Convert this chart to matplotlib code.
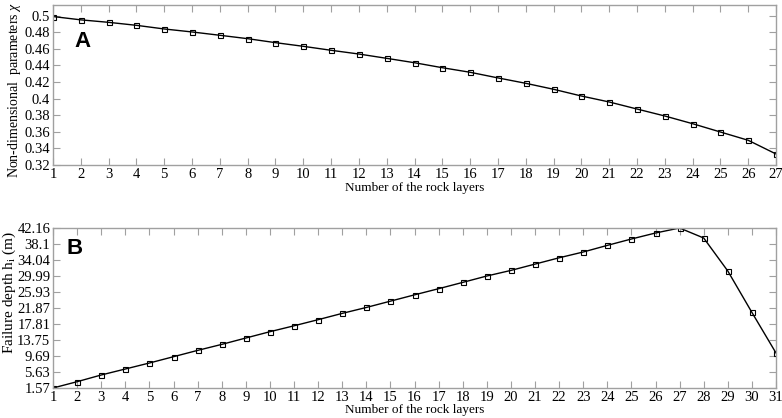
import matplotlib
matplotlib.use("Agg")
import matplotlib.pyplot as plt
import numpy as np

layers_a = list(range(1, 28))
chi = [0.499, 0.495, 0.492, 0.4884, 0.484, 0.4804, 0.4764, 0.4723, 0.4675,
       0.4631, 0.4583, 0.4538, 0.4486, 0.4433, 0.4373, 0.4318, 0.425,
       0.4185, 0.4113, 0.4032, 0.396, 0.3875, 0.3791, 0.3698, 0.3598,
       0.3498, 0.3333]
yticks_a = [0.32, 0.34, 0.36, 0.38, 0.4, 0.42, 0.44, 0.46, 0.48, 0.5]
yticklabels_a = ["0.32", "0.34", "0.36", "0.38", "0.4", "0.42", "0.44", "0.46", "0.48", "0.5"]

layers_b = list(range(1, 32))
depth = [1.57, 3.17, 4.87, 6.39, 7.91, 9.51, 11.11, 12.63, 14.25, 15.85,
         17.35, 18.9, 20.5, 22.0, 23.6, 25.2, 26.76, 28.36, 29.98, 31.4,
         33.0, 34.6, 36.07, 37.75, 39.37, 40.89, 42.16, 39.62, 31.25,
         20.75, 10.45]
yticks_b = [1.57, 5.63, 9.69, 13.75, 17.81, 21.87, 25.93, 29.99, 34.04, 38.1, 42.16]
yticklabels_b = ["1.57", "5.63", "9.69", "13.75", "17.81", "21.87", "25.93",
                 "29.99", "34.04", "38.1", "42.16"]

serif = "Liberation Serif"
plt.rcParams["font.family"] = serif
plt.rcParams["mathtext.fontset"] = "custom"
plt.rcParams["mathtext.rm"] = serif
plt.rcParams["mathtext.it"] = serif + ":italic"

fig = plt.figure(figsize=(7.82, 4.18), dpi=100)
W, H = 782, 418
ax1 = fig.add_axes([53 / W, 1 - 165 / H, (776 - 53) / W, (165 - 5) / H])
ax2 = fig.add_axes([53 / W, 1 - 388 / H, (776 - 53) / W, (388 - 228) / H])

spine_col = "#a0a0a0"

def style(ax):
    for s in ax.spines.values():
        s.set_color(spine_col)
        s.set_linewidth(1.0)
    ax.tick_params(direction="in", length=5, width=0.8, color=spine_col,
                   top=True, right=True, labelsize=10.5, pad=2,
                   labelcolor="black")

ax1.plot(layers_a, chi, color="black", lw=1.0, marker="s", ms=3.6,
         mfc="none", mec="black", mew=0.8)
ax1.set_xlim(1, 27)
ax1.set_ylim(0.32, 0.5129)
ax1.set_xticks(layers_a)
ax1.set_yticks(yticks_a)
ax1.set_yticklabels(yticklabels_a)
style(ax1)
ax1.set_xlabel("Number of the rock layers", fontsize=9.5, labelpad=1)
ax1.set_ylabel("Non-dimensional  parameters $\\mathit{\\chi}$", fontsize=10)
ax1.yaxis.set_label_coords(-30 / 723, 0.47)
ax1.text(0.029, 0.77, "A", transform=ax1.transAxes, fontsize=16,
         fontweight="bold", family="Liberation Sans", va="center", ha="left")

ax2.plot(layers_b, depth, color="black", lw=1.0, marker="s", ms=3.6,
         mfc="none", mec="black", mew=0.8)
ax2.set_xlim(1, 31)
ax2.set_ylim(1.57, 42.16)
ax2.set_xticks(layers_b)
ax2.set_yticks(yticks_b)
ax2.set_yticklabels(yticklabels_b)
style(ax2)
ax2.set_xlabel("Number of the rock layers", fontsize=9.5, labelpad=0)
ax2.set_ylabel("Failure depth h$_{\\mathrm{i}}$ (m)", fontsize=11)
ax2.yaxis.set_label_coords(-35 / 723, 0.6)
ax2.text(0.019, 0.87, "B", transform=ax2.transAxes, fontsize=16,
         fontweight="bold", family="Liberation Sans", va="center", ha="left")

fig.savefig("out.png", dpi=100)
